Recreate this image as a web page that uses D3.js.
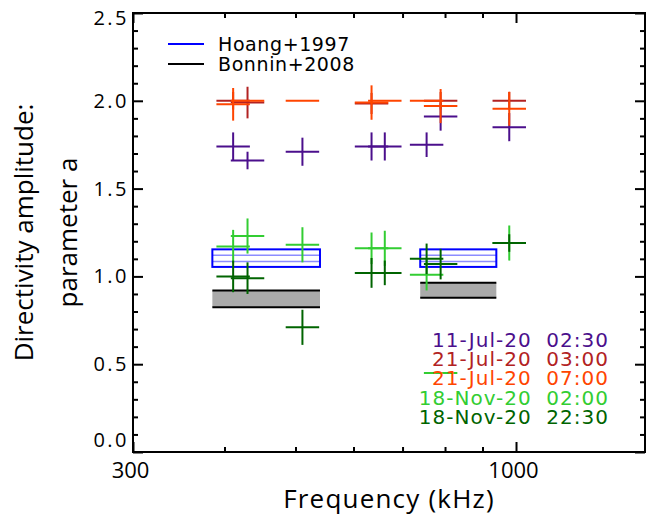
<!DOCTYPE html>
<html>
<head>
<meta charset="utf-8">
<script src="https://cdn.jsdelivr.net/npm/d3@7"></script>
<style>
  body { margin: 0; background: #fff; }
  svg { display: block; }
  .tick-label { font-family: "Open Sans", sans-serif; font-size: 22px; fill: #000; }
  .ytick-label { font-size: 20px; letter-spacing: 2.5px; }
  .title { font-family: "Open Sans", sans-serif; font-size: 26px; fill: #000; }
  .idl { font-family: "DejaVu Sans", sans-serif; }
</style>
</head>
<body>
<svg id="chart" width="647" height="517"></svg>
<script>

// Frequency channels (kHz)
var freqs = [411, 430, 511, 635, 662, 755, 789, 979];
// half width of a channel, as a fraction of its frequency
var freqHalfWidth = 0.054;

// Directivity amplitude a for each event (null = no value at that channel)
var jul11_0230 = [1.74, 1.66, 1.71, 1.74, 1.74, 1.75, 1.91, 1.85];
var jul11_0230Err = [0.08, 0.05, 0.08, 0.08, 0.08, 0.07, 0.08, 0.08];
var jul21_0300 = [2.00, 1.99, null, 1.985, null, null, 2.00, 2.00];
var jul21_0300Err = [0.05, 0.09, 0, 0.06, 0, 0, 0.05, 0.05];
var jul21_0700 = [1.98, 2.00, 2.00, 1.99, 2.00, 2.00, 1.97, 1.955];
var jul21_0700Err = [0.093, 0, 0, 0.098, 0, 0, 0.097, 0.097];
var nov18_0200 = [1.17, 1.23, 1.18, 1.16, 1.16, 1.01, 0.45, 1.19];
var nov18_0200Err = [0.095, 0.10, 0.10, 0.09, 0.10, 0.09, 0, 0.10];
var nov18_2230 = [1.00, 0.99, 0.71, 1.02, 1.02, 1.10, 1.07, 1.19];
var nov18_2230Err = [0.09, 0.09, 0.10, 0.085, 0.07, 0.087, 0.087, 0.05];

var eventLabels = ["11-Jul-20  02:30", "21-Jul-20  03:00", "21-Jul-20  07:00",
                   "18-Nov-20  02:00", "18-Nov-20  22:30"];
var eventColors = ["#4b0f8c", "#b22222", "#ff4500", "#32cd32", "#006400"];

// Earlier results: frequency bands and amplitude ranges
var bandRanges = [[385, 540], [740, 940]];
var hoangRange = [1.054, 1.154];
var hoangInner = [1.085, 1.12];
var bonninRanges = [[0.824, 0.919], [0.879, 0.964]];

var refLabels = ["Hoang+1997", "Bonnin+2008"];
var refColors = ["#0000ff", "#000000"];

// Axes
var xDomain = [300, 1500];
var yDomain = [0, 2.5];
var xMajor = [300, 1000];
var xMinor = [400, 500, 600, 700, 800, 900];
var yMajor = [0, 0.5, 1.0, 1.5, 2.0, 2.5];
var yMinor = d3.range(1, 25).filter(function(d) { return d % 5 !== 0; }).map(function(d) { return d / 10; });


var svg = d3.select("#chart");
var plotL = 133, plotR = 645, plotT = 13, plotB = 452;

var x = d3.scaleLog().domain(xDomain).range([plotL, plotR]);
var y = d3.scaleLinear().domain(yDomain).range([plotB, plotT]);

// Bonnin+2008 grey bands
var bonnin = svg.append("g").attr("class", "bonnin");
bandRanges.forEach(function(b, i) {
    var r = bonninRanges[i];
    bonnin.append("rect")
        .attr("x", x(b[0]))
        .attr("y", y(r[1]))
        .attr("width", x(b[1]) - x(b[0]))
        .attr("height", y(r[0]) - y(r[1]))
        .attr("fill", "#aaaaaa");
    r.forEach(function(v) {
        bonnin.append("line")
            .attr("x1", x(b[0])).attr("x2", x(b[1]))
            .attr("y1", y(v)).attr("y2", y(v))
            .attr("stroke", "#000").attr("stroke-width", 2);
    });
});

// Hoang+1997 blue boxes
var hoang = svg.append("g").attr("class", "hoang");
bandRanges.forEach(function(b) {
    hoangInner.forEach(function(v) {
        hoang.append("line")
            .attr("x1", x(b[0])).attr("x2", x(b[1]))
            .attr("y1", y(v)).attr("y2", y(v))
            .attr("stroke", "#8c8cff").attr("stroke-width", 1.5);
    });
    hoang.append("rect")
        .attr("x", x(b[0]))
        .attr("y", y(hoangRange[1]))
        .attr("width", x(b[1]) - x(b[0]))
        .attr("height", y(hoangRange[0]) - y(hoangRange[1]))
        .attr("fill", "none")
        .attr("stroke", "#0000ff")
        .attr("stroke-width", 2);
});

// Crosses for each event
var series = [
    [jul11_0230, jul11_0230Err],
    [jul21_0300, jul21_0300Err],
    [jul21_0700, jul21_0700Err],
    [nov18_0200, nov18_0200Err],
    [nov18_2230, nov18_2230Err]
];

series.forEach(function(s, si) {
    var pts = freqs.map(function(f, i) {
        return { f: f, a: s[0][i], e: s[1][i] };
    }).filter(function(d) { return d.a !== null; });

    var g = svg.append("g").attr("class", "event-" + si)
        .attr("stroke", eventColors[si])
        .attr("stroke-width", 2);

    g.selectAll("line.h").data(pts).enter().append("line")
        .attr("class", "h")
        .attr("x1", function(d) { return x(d.f / (1 + freqHalfWidth)); })
        .attr("x2", function(d) { return x(d.f * (1 + freqHalfWidth)); })
        .attr("y1", function(d) { return y(d.a); })
        .attr("y2", function(d) { return y(d.a); });

    g.selectAll("line.v").data(pts.filter(function(d) { return d.e > 0; })).enter().append("line")
        .attr("class", "v")
        .attr("x1", function(d) { return x(d.f); })
        .attr("x2", function(d) { return x(d.f); })
        .attr("y1", function(d) { return y(d.a - d.e); })
        .attr("y2", function(d) { return y(d.a + d.e); });
});

// Axes, ticks pointing inwards
function drawAxis(axisFn, ticks, size, translate, labels, fmt, pad) {
    var a = axisFn.tickValues(ticks).tickSize(-size).tickPadding(pad || 6)
        .tickFormat(labels ? fmt : "");
    var g = svg.append("g")
        .attr("transform", translate)
        .call(a);
    g.select(".domain").remove();
    g.selectAll(".tick line").attr("stroke", "#000").attr("stroke-width", 2);
    g.selectAll(".tick text").attr("class", "tick-label").attr("font-size", null).attr("font-family", null);
    return g;
}

var xAxisG = drawAxis(d3.axisBottom(x), xMajor, 10, "translate(0," + plotB + ")", true, d3.format("d"), 10);
xAxisG.selectAll(".tick text").attr("dx", -3);
drawAxis(d3.axisBottom(x), xMinor, 5, "translate(0," + plotB + ")", false);
drawAxis(d3.axisTop(x), xMajor, 10, "translate(0," + plotT + ")", false);
drawAxis(d3.axisTop(x), xMinor, 5, "translate(0," + plotT + ")", false);
var yAxisG = drawAxis(d3.axisLeft(y), yMajor, 10, "translate(" + plotL + ",0)", true, d3.format(".1f"), 4);
// end labels sit inside the frame, as in the original
yAxisG.selectAll(".tick text")
    .classed("ytick-label", true)
    .attr("transform", function(d) {
        if (d === yDomain[0]) return "translate(0,-12)";
        if (d === yDomain[1]) return "translate(0,5)";
        return null;
    });
drawAxis(d3.axisLeft(y), yMinor, 5, "translate(" + plotL + ",0)", false);
drawAxis(d3.axisRight(y), yMajor, 10, "translate(" + plotR + ",0)", false);
drawAxis(d3.axisRight(y), yMinor, 5, "translate(" + plotR + ",0)", false);

svg.append("rect")
    .attr("x", plotL).attr("y", plotT)
    .attr("width", plotR - plotL).attr("height", plotB - plotT)
    .attr("fill", "none").attr("stroke", "#000").attr("stroke-width", 2);

// Axis titles
svg.append("text")
    .attr("class", "title")
    .attr("x", (plotL + plotR) / 2)
    .attr("y", 508)
    .attr("text-anchor", "middle")
    .style("letter-spacing", "1.2px")
    .text("Frequency (kHz)");

var yTitle = svg.append("text")
    .attr("class", "title")
    .attr("text-anchor", "middle")
    .attr("transform", "translate(0," + (plotT + plotB) / 2 + ") rotate(-90)");
yTitle.append("tspan").attr("x", 0).attr("y", 33).text("Directivity amplitude:");
yTitle.append("tspan").attr("x", 0).attr("y", 77).text("parameter a");

// Reference legend (top left)
var refLegend = svg.append("g").attr("class", "ref-legend");
refLabels.forEach(function(t, i) {
    var ly = 44 + i * 20;
    refLegend.append("line")
        .attr("x1", 168).attr("x2", 204)
        .attr("y1", ly).attr("y2", ly)
        .attr("stroke", refColors[i]).attr("stroke-width", 2);
    refLegend.append("text")
        .attr("class", "idl")
        .attr("x", 218).attr("y", ly + 7)
        .attr("font-size", 19)
        .style("letter-spacing", "0.6px")
        .text(t);
});

// Event legend (bottom right)
var evLegend = svg.append("g").attr("class", "event-legend");
eventLabels.forEach(function(t, i) {
    evLegend.append("text")
        .attr("class", "idl")
        .attr("x", 609)
        .attr("y", 347 + i * 19.2)
        .attr("text-anchor", "end")
        .attr("font-size", 20)
        .style("white-space", "pre")
        .style("letter-spacing", "1px")
        .attr("fill", eventColors[i])
        .text(t);
});

</script>
</body>
</html>
